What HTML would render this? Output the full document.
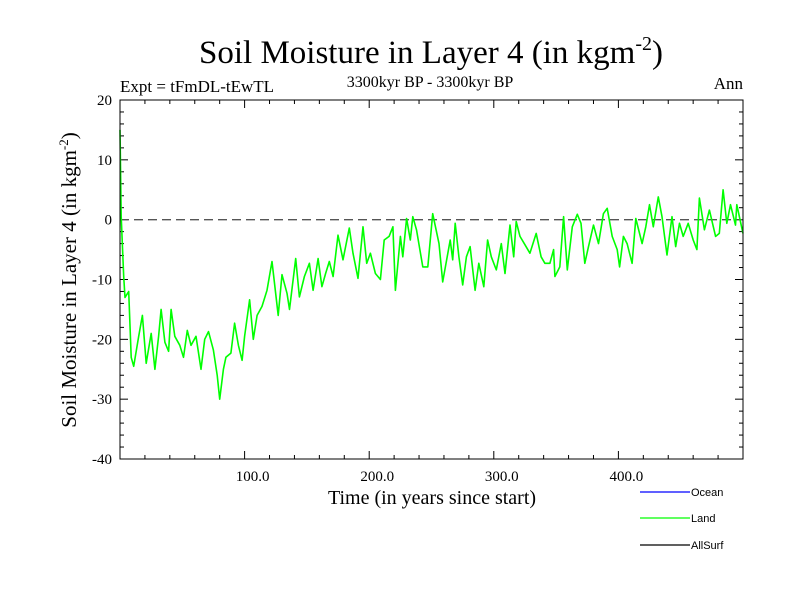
<!DOCTYPE html>
<html><head><meta charset="utf-8"><style>
body{margin:0;background:#fff;}
svg{display:block;font-family:"Liberation Serif",serif;}
</style></head><body>
<svg id="chart" width="800" height="600" viewBox="0 0 800 600">
<text x="431" y="63" font-size="33" text-anchor="middle">Soil Moisture in Layer 4 (in kgm<tspan font-size="20" dy="-13">-2</tspan><tspan dy="13">)</tspan></text>
<text x="120" y="92" font-size="17">Expt = tFmDL-tEwTL</text>
<text x="430" y="87" font-size="16" text-anchor="middle">3300kyr BP - 3300kyr BP</text>
<text x="743" y="89" font-size="17" text-anchor="end">Ann</text>
<text transform="translate(76,280) rotate(-90)" font-size="21" text-anchor="middle">Soil Moisture in Layer 4 (in kgm<tspan font-size="13" dy="-8">-2</tspan><tspan dy="8">)</tspan></text>
<text x="432" y="504" font-size="20" text-anchor="middle">Time (in years since start)</text>
<g id="axes"></g>
<g id="series"></g>
<rect x="120" y="100" width="623" height="359" fill="none" stroke="#000" stroke-width="1"/>
<g font-family="Liberation Sans,sans-serif" font-size="11">
<line x1="640" y1="492" x2="690" y2="492" stroke="#0000ff" stroke-width="1.3"/>
<text x="691" y="496">Ocean</text>
<line x1="640" y1="518" x2="690" y2="518" stroke="#00ff00" stroke-width="1.3"/>
<text x="691" y="522">Land</text>
<line x1="640" y1="545" x2="690" y2="545" stroke="#000" stroke-width="1.3"/>
<text x="691" y="549">AllSurf</text>
</g>
</svg>
<script>
const years = [0,1,3,4,7,9,11,15,18,21,25,28,31,33,36,39,41,44,48,51,54,57,61,65,68,71,75,78,80,83,85,89,92,95,98,100,104,107,110,114,118,122,127,130,134,136,141,144,148,152,155,159,162,165,168,171,175,179,184,187,191,195,198,201,205,209,212,216,219,221,225,227,230,233,235,238,243,247,251,256,259,265,267,269,272,275,278,281,285,288,292,295,298,302,306,309,313,316,318,321,325,329,334,338,341,345,348,349,353,356,359,363,367,370,373,376,380,384,388,391,395,399,401,404,407,411,414,419,422,425,428,432,435,439,443,446,449,452,456,460,463,465,469,473,478,481,484,487,490,494,495,500];
const landValues = [15,0.5,-9.5,-13,-12,-23,-24.5,-19.5,-16,-24,-19,-25,-19.5,-15,-20.5,-22,-15,-19.5,-21,-23,-18.5,-21,-19.5,-25,-20,-18.7,-21.8,-26,-30,-25,-23,-22.3,-17.3,-21,-23.5,-19.5,-13.4,-20,-16,-14.5,-11.8,-7,-16,-9.2,-12.3,-15,-6.5,-12.9,-9.5,-7.3,-11.8,-6.5,-11.2,-9,-7,-9.5,-2.6,-6.7,-1.4,-5.6,-9.8,-1.2,-7.3,-5.6,-9,-10,-3.4,-2.8,-1.2,-11.8,-2.8,-6.2,0.2,-3.4,0.5,-1.7,-7.9,-7.9,1,-4,-10.4,-3.4,-6.7,-0.6,-6.2,-10.9,-6.2,-4.5,-11.8,-7.3,-11.2,-3.4,-6.2,-8.4,-4,-9,-0.9,-6.2,-0.3,-2.8,-4.2,-5.6,-2.3,-6.2,-7.3,-7.3,-5,-9.5,-7.9,0.5,-8.4,-1.2,0.9,-0.6,-7.3,-4.5,-0.9,-4,1,1.9,-2.8,-5,-7.9,-2.8,-4,-7.3,0.2,-4,-1.2,2.5,-1.2,3.8,0.5,-5.9,0.5,-4.5,-0.6,-2.8,-0.6,-3.4,-5,3.6,-1.7,1.6,-2.8,-2.3,5,-0.6,2.5,-0.9,2.5,-2.3];
const yTicks = [20,10,0,-10,-20,-30,-40];
const yTickLabels = ["20","10","0","-10","-20","-30","-40"];
const xTicks = [100,200,300,400];
const xTickLabels = ["100.0","200.0","300.0","400.0"];

const X0=120,X1=743,Y0=100,Y1=459,XMIN=0,XMAX=500,YMIN=-40,YMAX=20;
const xs=t=>X0+(t-XMIN)/(XMAX-XMIN)*(X1-X0);
const ys=v=>Y1-(v-YMIN)/(YMAX-YMIN)*(Y1-Y0);
const NS="http://www.w3.org/2000/svg";
const axes=document.getElementById('axes');
function mk(tag,attrs,parent){const e=document.createElementNS(NS,tag);for(const k in attrs)e.setAttribute(k,attrs[k]);parent.appendChild(e);return e;}
for(let v=YMIN;v<=YMAX;v+=2){
  const y=ys(v);const L=(v%10===0)?8:4;
  const t1=mk('line',{x1:X0,y1:y,x2:X0+L,y2:y,stroke:'#000'},axes);
  
  
  const t2=mk('line',{x1:X1,y1:y,x2:X1-L,y2:y,stroke:'#000'},axes);
  
  
}
yTicks.forEach((v,i)=>{
  const t=mk('text',{x:112,y:ys(v)+5,'font-size':15,'text-anchor':'end'},axes);
  t.textContent=yTickLabels[i];
  
  
});
for(let v=20;v<XMAX;v+=20){
  const x=xs(v);const L=(v%100===0)?8:4;
  const t1=mk('line',{x1:x,y1:Y1,x2:x,y2:Y1-L,stroke:'#000'},axes);
  
  
  const t2=mk('line',{x1:x,y1:Y0,x2:x,y2:Y0+L,stroke:'#000'},axes);
  
  
}
xTicks.forEach((v,i)=>{
  const t=mk('text',{x:xs(v)+8,y:481,'font-size':15,'text-anchor':'middle'},axes);
  t.textContent=xTickLabels[i];
  
  
});
const z=mk('line',{x1:X0,y1:ys(0),x2:X1,y2:ys(0),stroke:'#555','stroke-width':1.3,'stroke-dasharray':'9,5'},axes);


const d=years.map((t,i)=>(i?'L':'M')+xs(t).toFixed(1)+','+ys(landValues[i]).toFixed(1)).join(' ');
const p=mk('path',{d:d,fill:'none',stroke:'#00ff00','stroke-width':1.6,'stroke-linejoin':'round'},document.getElementById('series'));


</script>
</body></html>
